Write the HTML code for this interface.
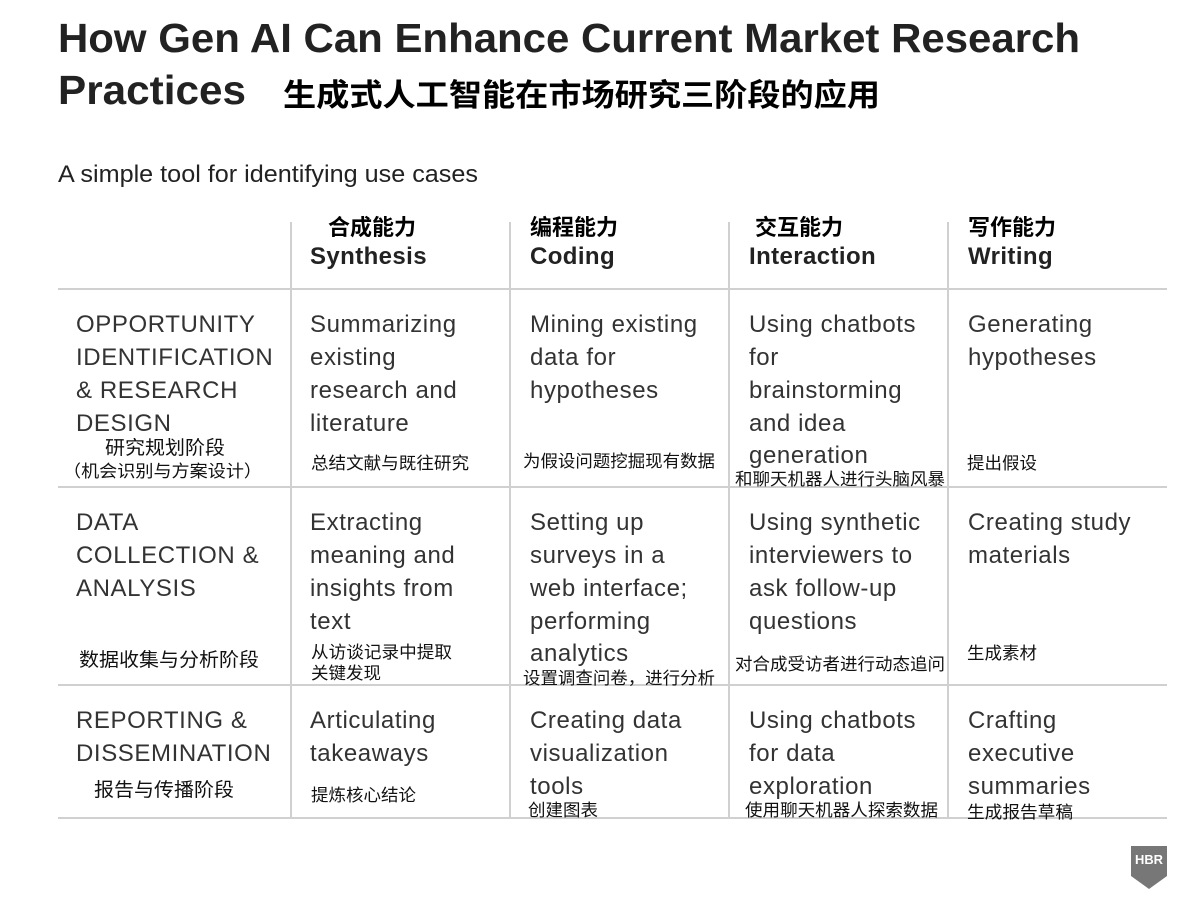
<!DOCTYPE html>
<html><head><meta charset="utf-8"><style>
html,body{margin:0;padding:0;background:#fff;}
svg{display:block}
.t{font-family:"Liberation Sans","Noto Sans CJK SC",sans-serif;}
.b{font-size:24px;fill:#333;letter-spacing:0.6px;}
.z{font-size:17px;fill:#111;font-family:"Liberation Sans","Noto Sans CJK SC",sans-serif;}
.h{font-size:24px;font-weight:bold;fill:#222;letter-spacing:0.4px;}
.hz{font-size:22px;font-weight:bold;fill:#000;font-family:"Liberation Sans","Noto Sans CJK SC",sans-serif;}
</style></head><body>
<svg width="1200" height="900" viewBox="0 0 1200 900" class="t">
<text x="58" y="52" font-size="41" font-weight="bold" fill="#222" textLength="1022" lengthAdjust="spacingAndGlyphs">How Gen AI Can Enhance Current Market Research</text>
<text x="58" y="104" font-size="41" font-weight="bold" fill="#222" textLength="188" lengthAdjust="spacingAndGlyphs">Practices</text>
<text x="283" y="106" font-size="31" font-weight="bold" fill="#000" font-family="Liberation Sans,Noto Sans CJK SC,sans-serif" textLength="597" lengthAdjust="spacingAndGlyphs">生成式人工智能在市场研究三阶段的应用</text>
<text x="58" y="182" font-size="24" fill="#222" textLength="420" lengthAdjust="spacingAndGlyphs">A simple tool for identifying use cases</text>

<g stroke="#d0d0d0" stroke-width="2">
<line x1="291" y1="222" x2="291" y2="818"/><line x1="510" y1="222" x2="510" y2="818"/>
<line x1="729" y1="222" x2="729" y2="818"/><line x1="948" y1="222" x2="948" y2="818"/>
<line x1="58" y1="289" x2="1167" y2="289"/><line x1="58" y1="487" x2="1167" y2="487"/>
<line x1="58" y1="685" x2="1167" y2="685"/><line x1="58" y1="818" x2="1167" y2="818"/>
</g>

<text class="hz" x="328" y="235">合成能力</text><text class="h" x="310" y="264">Synthesis</text>
<text class="hz" x="530" y="235">编程能力</text><text class="h" x="530" y="264">Coding</text>
<text class="hz" x="755" y="235">交互能力</text><text class="h" x="749" y="264">Interaction</text>
<text class="hz" x="968" y="235">写作能力</text><text class="h" x="968" y="264">Writing</text>

<g class="b">
<text x="76" y="332">OPPORTUNITY</text><text x="76" y="365">IDENTIFICATION</text><text x="76" y="398">&amp; RESEARCH</text><text x="76" y="431">DESIGN</text>
<text x="310" y="332">Summarizing</text><text x="310" y="365">existing</text><text x="310" y="398">research and</text><text x="310" y="431">literature</text>
<text x="530" y="332">Mining existing</text><text x="530" y="365">data for</text><text x="530" y="398">hypotheses</text>
<text x="749" y="332">Using chatbots</text><text x="749" y="365">for</text><text x="749" y="398">brainstorming</text><text x="749" y="431">and idea</text><text x="749" y="463">generation</text>
<text x="968" y="332">Generating</text><text x="968" y="365">hypotheses</text>

<text x="76" y="530">DATA</text><text x="76" y="563">COLLECTION &amp;</text><text x="76" y="596">ANALYSIS</text>
<text x="310" y="530">Extracting</text><text x="310" y="563">meaning and</text><text x="310" y="596">insights from</text><text x="310" y="629">text</text>
<text x="530" y="530">Setting up</text><text x="530" y="563">surveys in a</text><text x="530" y="596">web interface;</text><text x="530" y="629">performing</text><text x="530" y="661">analytics</text>
<text x="749" y="530">Using synthetic</text><text x="749" y="563">interviewers to</text><text x="749" y="596">ask follow-up</text><text x="749" y="629">questions</text>
<text x="968" y="530">Creating study</text><text x="968" y="563">materials</text>

<text x="76" y="728">REPORTING &amp;</text><text x="76" y="761">DISSEMINATION</text>
<text x="310" y="728">Articulating</text><text x="310" y="761">takeaways</text>
<text x="530" y="728">Creating data</text><text x="530" y="761">visualization</text><text x="530" y="794">tools</text>
<text x="749" y="728">Using chatbots</text><text x="749" y="761">for data</text><text x="749" y="794">exploration</text>
<text x="968" y="728">Crafting</text><text x="968" y="761">executive</text><text x="968" y="794">summaries</text>
</g>

<g class="z">
<text x="105" y="454" font-size="19" textLength="120" lengthAdjust="spacingAndGlyphs">研究规划阶段</text>
<text x="63" y="477" textLength="199" lengthAdjust="spacingAndGlyphs">（机会识别与方案设计）</text>
<text x="311" y="469" textLength="158" lengthAdjust="spacingAndGlyphs">总结文献与既往研究</text>
<text x="523" y="467" textLength="192" lengthAdjust="spacingAndGlyphs">为假设问题挖掘现有数据</text>
<text x="735" y="485" textLength="210" lengthAdjust="spacingAndGlyphs">和聊天机器人进行头脑风暴</text>
<text x="967" y="469" textLength="70" lengthAdjust="spacingAndGlyphs">提出假设</text>
<text x="79" y="666" textLength="180" lengthAdjust="spacingAndGlyphs" font-size="19">数据收集与分析阶段</text>
<text x="311" y="658" textLength="141" lengthAdjust="spacingAndGlyphs">从访谈记录中提取</text><text x="311" y="679" textLength="70" lengthAdjust="spacingAndGlyphs">关键发现</text>
<text x="523" y="684" textLength="192" lengthAdjust="spacingAndGlyphs">设置调查问卷，进行分析</text>
<text x="735" y="670" textLength="210" lengthAdjust="spacingAndGlyphs">对合成受访者进行动态追问</text>
<text x="967" y="659" textLength="70" lengthAdjust="spacingAndGlyphs">生成素材</text>
<text x="94" y="796" textLength="140" lengthAdjust="spacingAndGlyphs" font-size="19">报告与传播阶段</text>
<text x="311" y="801" textLength="105" lengthAdjust="spacingAndGlyphs">提炼核心结论</text>
<text x="528" y="816" textLength="70" lengthAdjust="spacingAndGlyphs">创建图表</text>
<text x="745" y="816" textLength="193" lengthAdjust="spacingAndGlyphs">使用聊天机器人探索数据</text>
<text x="967" y="818" textLength="106" lengthAdjust="spacingAndGlyphs">生成报告草稿</text>
</g>

<path d="M1131 846 H1167 V876 L1149 889 L1131 876 Z" fill="#777"/>
<text x="1149" y="864" font-size="13" font-weight="bold" fill="#fff" text-anchor="middle" textLength="28" lengthAdjust="spacingAndGlyphs">HBR</text>
</svg>
</body></html>
